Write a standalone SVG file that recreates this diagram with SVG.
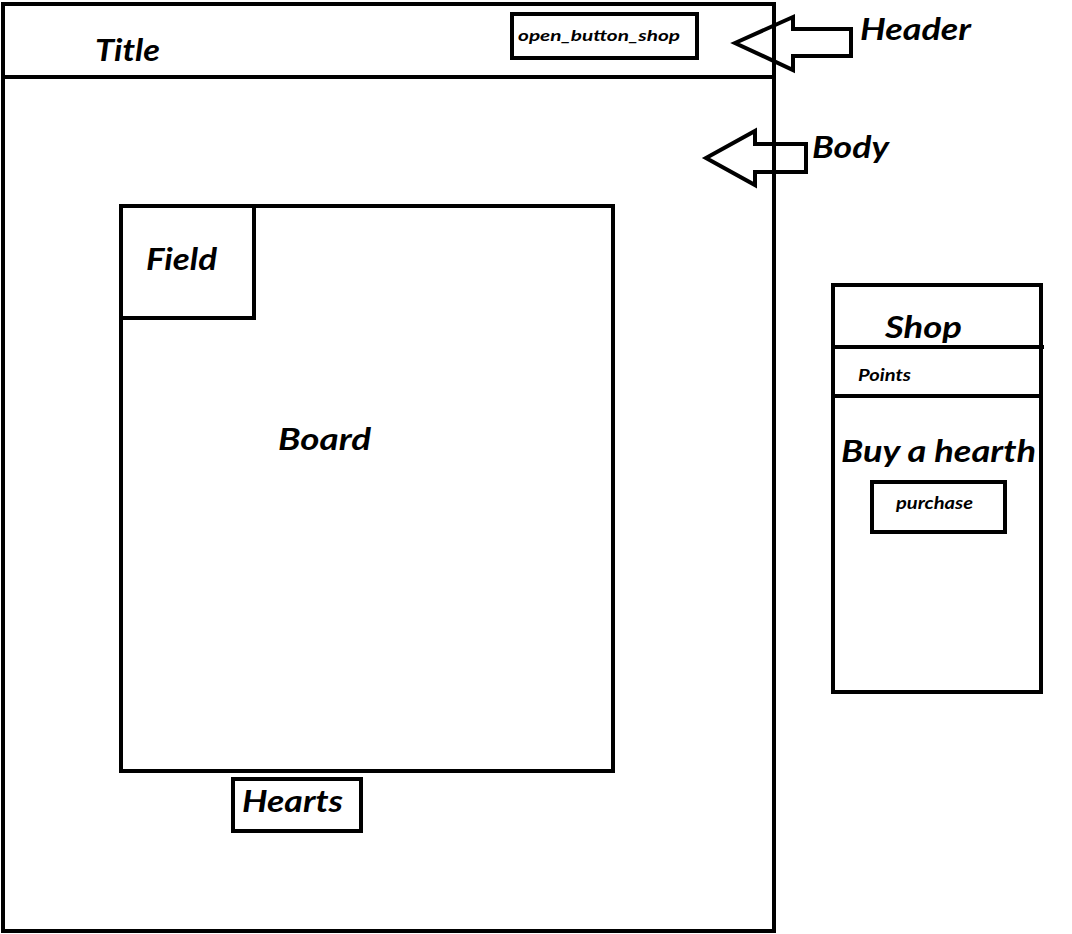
<svg xmlns="http://www.w3.org/2000/svg" width="1072" height="934" viewBox="0 0 1072 934">
<style>
.b{fill:none;stroke:#000;stroke-width:4}
.t{font-family:"Lato","Liberation Sans",sans-serif;font-weight:bold;font-style:italic;fill:#000}
</style>
<rect x="0" y="0" width="1072" height="934" fill="#fff"/>
<g id="page">
<rect class="b" x="3" y="4" width="771" height="927"/>
</g>
<g id="header">
<line class="b" x1="3" y1="77" x2="774" y2="77"/>
<text class="t" x="95" y="61" font-size="30" textLength="65" lengthAdjust="spacingAndGlyphs">Title</text>
</g>
<g id="open_button_shop">
<rect class="b" x="512" y="14" width="185" height="44"/>
<text class="t" x="518" y="41" font-size="16" textLength="162" lengthAdjust="spacingAndGlyphs">open_button_shop</text>
</g>
<g id="board">
<rect class="b" x="121" y="206" width="492" height="565"/>
<text class="t" x="278" y="450" font-size="31" textLength="93" lengthAdjust="spacingAndGlyphs">Board</text>
</g>
<g id="field">
<rect class="b" x="121" y="206" width="133" height="112"/>
<text class="t" x="146" y="270" font-size="31" textLength="71" lengthAdjust="spacingAndGlyphs">Field</text>
</g>
<g id="hearts">
<rect class="b" x="233" y="779" width="128" height="52"/>
<text class="t" x="242" y="812" font-size="30" textLength="101" lengthAdjust="spacingAndGlyphs">Hearts</text>
</g>
<g id="shop">
<rect class="b" x="833" y="285" width="208" height="407"/>
<line class="b" x1="833" y1="347" x2="1044" y2="347"/>
<line class="b" x1="833" y1="396" x2="1041" y2="396"/>
<text class="t" x="885" y="338" font-size="31" textLength="77" lengthAdjust="spacingAndGlyphs">Shop</text>
<text class="t" x="858" y="381" font-size="17" textLength="53" lengthAdjust="spacingAndGlyphs">Points</text>
<text class="t" x="841" y="462" font-size="31" textLength="195" lengthAdjust="spacingAndGlyphs">Buy a hearth</text>
</g>
<g id="purchase">
<rect class="b" x="872" y="482" width="133" height="50"/>
<text class="t" x="896" y="509" font-size="17" textLength="77" lengthAdjust="spacingAndGlyphs">purchase</text>
</g>
<g id="connectors">
<polygon class="b" stroke-linejoin="miter" points="735,43 793,17 793,29 851,29 851,56 793,56 793,70"/>
<polygon class="b" stroke-linejoin="miter" points="706,158 755,131 755,144 806,144 806,172 755,172 755,185"/>
</g>
<g id="labels">
<text class="t" x="860" y="40" font-size="31" textLength="111" lengthAdjust="spacingAndGlyphs">Header</text>
<text class="t" x="812" y="158" font-size="31" textLength="77" lengthAdjust="spacingAndGlyphs">Body</text>
</g>
</svg>
